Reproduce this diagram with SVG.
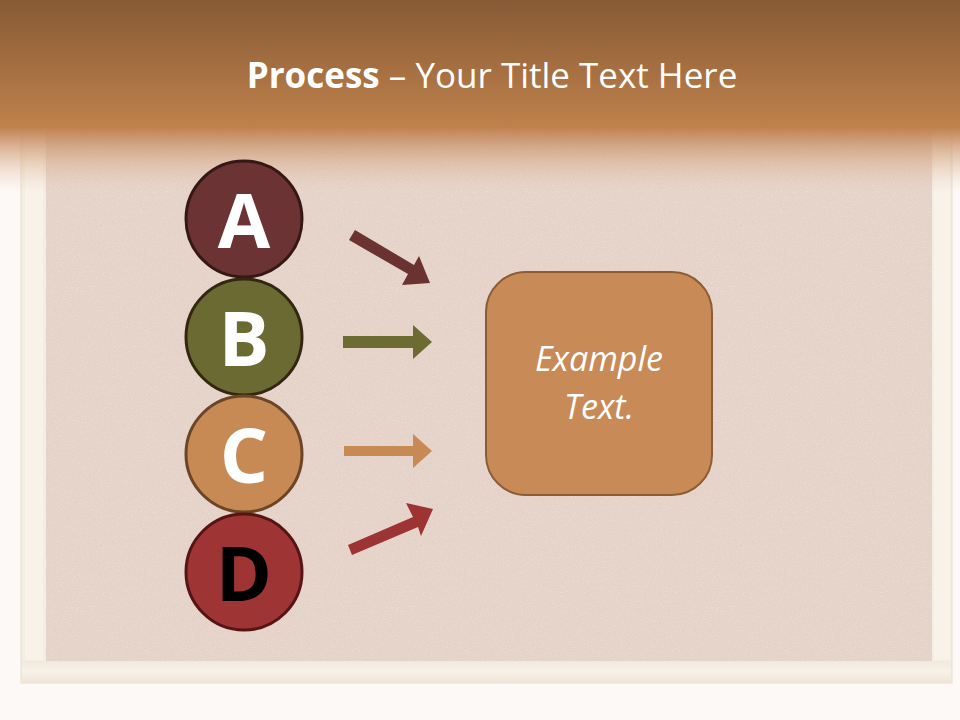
<svg xmlns="http://www.w3.org/2000/svg" width="960" height="720" viewBox="0 0 960 720">
  <defs>
    <linearGradient id="hdr" x1="0" y1="0" x2="0" y2="1">
      <stop offset="0" stop-color="#875a35"/>
      <stop offset="0.66" stop-color="#bf814c"/>
      <stop offset="0.70" stop-color="#c4885a" stop-opacity="0.9"/>
      <stop offset="1" stop-color="#e8c8b0" stop-opacity="0"/>
    </linearGradient>
    <linearGradient id="frameB" x1="0" y1="0" x2="0" y2="1">
      <stop offset="0" stop-color="#f1e9dc"/>
      <stop offset="0.5" stop-color="#f7f1e7"/>
      <stop offset="1" stop-color="#efe6d8"/>
    </linearGradient>
    <filter id="noise" x="0" y="0" width="100%" height="100%">
      <feTurbulence type="fractalNoise" baseFrequency="0.8" numOctaves="2" seed="3"/>
      <feColorMatrix type="matrix" values="0 0 0 0 1  0 0 0 0 1  0 0 0 0 1  0 0 0 0.5 -0.2"/>
      <feComposite in2="SourceGraphic" operator="in"/>
    </filter>
    <style>
      .circ { stroke-width: 3; }
      .letter { font-family: "Open Sans", "Noto Sans", sans-serif; font-weight: bold; font-size: 76px; text-anchor: middle; }
      .boxtext { font-family: "Open Sans", "Noto Sans", sans-serif; font-style: italic; font-size: 34px; fill: #ffffff; text-anchor: middle; }
      .title { font-family: "Open Sans", "Noto Sans", sans-serif; font-size: 35px; fill: #ffffff; }
    </style>
  </defs>

  <!-- background -->
  <rect x="0" y="0" width="960" height="720" fill="#fdf9f6"/>
  <!-- frame -->
  <rect x="21" y="120" width="931" height="563" fill="#f4ede2" stroke="#e6ddd0" stroke-width="1"/>
  <rect x="25" y="120" width="18" height="540" fill="#f8f2e9"/>
  <rect x="934" y="120" width="16" height="540" fill="#f8f2e9"/>
  <rect x="22" y="661" width="929" height="21" fill="url(#frameB)"/>
  <!-- cork -->
  <rect x="46" y="120" width="886" height="541" fill="#e4d1c7"/>
  <rect x="46" y="120" width="886" height="541" fill="#e4d1c7" filter="url(#noise)"/>
  <!-- header -->
  <rect x="0" y="0" width="960" height="192" fill="url(#hdr)"/>
  <text class="title" x="492" y="88" text-anchor="middle"><tspan font-weight="bold">Process</tspan> – Your Title Text Here</text>

  <!-- connectors -->
  <g id="connectors">
    <polygon fill="#6b3232" points="349,240 355,230 414,265 419,256 430,283 402,285 408,274"/>
    <polygon fill="#6b6b32" points="343,336 413,336 413,325 432,342 413,359 413,348 343,348"/>
    <polygon fill="#c88a55" points="344,446 413,446 413,434 432,451 413,468 413,456 344,456"/>
    <polygon fill="#9e3333" points="348,545 352,555 418,527 421,536 433,509 406,503 413,517"/>
  </g>

  <!-- nodes -->
  <g id="nodeA">
    <circle class="circ" cx="244" cy="219" r="58" fill="#6b3333" stroke="#351815"/>
    <text class="letter" x="244" y="248" fill="#ffffff">A</text>
  </g>
  <g id="nodeB">
    <circle class="circ" cx="244" cy="337" r="58" fill="#6b6a32" stroke="#33270f"/>
    <text class="letter" x="244" y="366" fill="#ffffff">B</text>
  </g>
  <g id="nodeC">
    <circle class="circ" cx="244" cy="454" r="58" fill="#c88a55" stroke="#6b4525"/>
    <text class="letter" x="244" y="483" fill="#ffffff">C</text>
  </g>
  <g id="nodeD">
    <circle class="circ" cx="244" cy="572" r="58" fill="#9e3434" stroke="#561414"/>
    <text class="letter" x="244" y="601" fill="#000000">D</text>
  </g>
  <g id="box">
    <rect x="486" y="272" width="226" height="223" rx="40" ry="40" fill="#c88a57" stroke="#8d5c33" stroke-width="2"/>
    <text class="boxtext" x="599" y="371">Example</text>
    <text class="boxtext" x="599" y="419">Text.</text>
  </g>
</svg>
